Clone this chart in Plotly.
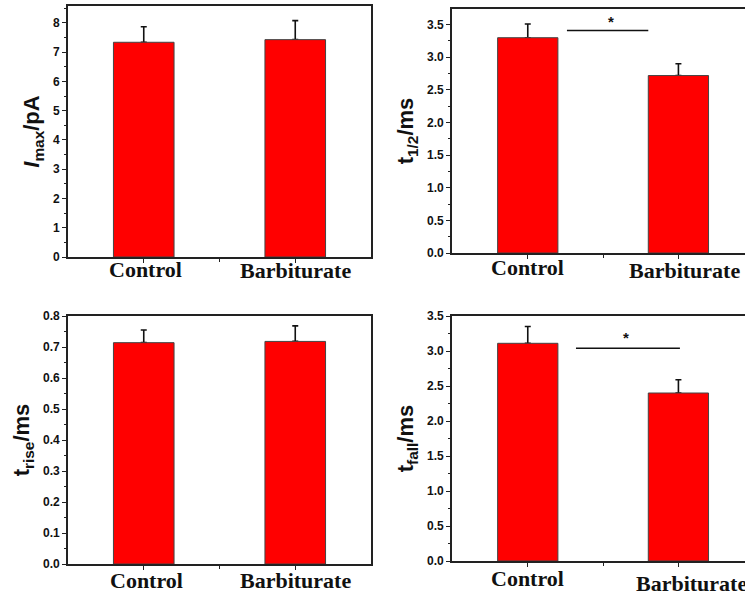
import plotly.graph_objects as go

# ---------------- data ----------------
categories = ["Control", "Barbiturate"]

imax = [7.34, 7.43]
imax_err = [0.53, 0.65]

t_half = [3.30, 2.72]
t_half_err = [0.21, 0.18]

t_rise = [0.714, 0.718]
t_rise_err = [0.041, 0.050]

t_fall = [3.11, 2.40]
t_fall_err = [0.24, 0.19]

sig_half_x = [0.26, 0.80]
sig_half_y = [3.41, 3.41]
star_half = (0.55, 3.55)

sig_fall_x = [0.32, 1.01]
sig_fall_y = [3.04, 3.04]
star_fall = (0.65, 3.20)

# ---------------- layout helpers ----------------
W, H = 745, 592


def px_x(p):
    return p / W


def px_y(p):
    return 1 - p / H


xs = list(range(len(categories)))

panels = [
    dict(v=imax, e=imax_err, title="<b><i>I</i><sub>max</sub>/pA</b>", yr=[0, 8.58], dt=1, fmt="d",
         xd=(68, 371), yd=(6, 257), frame=True, xr=[-0.5, 1.5]),
    dict(v=t_half, e=t_half_err, title="<b>t<sub>1/2</sub>/ms</b>", yr=[0, 3.74], dt=0.5, fmt=".1f",
         xd=(452, 745), yd=(9, 253), frame=False, xr=[-0.503, 1.442]),
    dict(v=t_rise, e=t_rise_err, title="<b>t<sub>rise</sub>/ms</b>", yr=[0, 0.8], dt=0.1, fmt=".1f",
         xd=(68, 371), yd=(316, 564), frame=True, xr=[-0.5, 1.5]),
    dict(v=t_fall, e=t_fall_err, title="<b>t<sub>fall</sub>/ms</b>", yr=[0, 3.5], dt=0.5, fmt=".1f",
         xd=(452, 745), yd=(316, 561), frame=False, xr=[-0.503, 1.442]),
]

# x-label pixel positions (centre y in px, x shift in px) per panel
label_pos = [
    [(269, 2), (270, 0)],
    [(267, 0), (270, 6)],
    [(580, 3), (580, 0)],
    [(578, 0), (583, 13)],
]

fig = go.Figure()
layout = {}
annotations = []

for i, p in enumerate(panels):
    n = "" if i == 0 else str(i + 1)
    xa, ya = "x" + n, "y" + n
    # error bars (drawn underneath the visible bars so only the upper half shows)
    fig.add_trace(go.Bar(
        x=xs, y=p["v"], width=0.4, xaxis=xa, yaxis=ya,
        marker=dict(color="rgba(0,0,0,0)", line=dict(width=0)),
        error_y=dict(type="data", symmetric=False, array=p["e"], arrayminus=[0] * len(p["e"]),
                     color="#111111", thickness=1.6, width=3),
        showlegend=False, hoverinfo="skip",
    ))
    fig.add_trace(go.Bar(
        x=xs, y=p["v"], width=0.4, xaxis=xa, yaxis=ya,
        marker=dict(color="#ff0000", line=dict(color="#444444", width=1)),
        showlegend=False,
    ))
    axis_line = dict(showline=True, linecolor="#222222", linewidth=1.6, zeroline=False, showgrid=False)
    layout["xaxis" + n] = dict(
        **axis_line,
        domain=[px_x(p["xd"][0]), px_x(p["xd"][1])],
        anchor=ya, range=p["xr"], tickmode="array", tickvals=xs, showticklabels=False,
        ticks="outside", ticklen=4, tickwidth=1.4, tickcolor="#222222",
        minor=dict(tickvals=[0.5], ticks="outside", ticklen=3, tickwidth=1.2, tickcolor="#222222"),
        mirror=True, fixedrange=True,
    )
    layout["yaxis" + n] = dict(
        **axis_line,
        domain=[px_y(p["yd"][1]), px_y(p["yd"][0])],
        anchor=xa, range=p["yr"], dtick=p["dt"], tick0=0, tickformat=p["fmt"],
        ticks="outside", ticklen=4, tickwidth=1.4, tickcolor="#222222",
        minor=dict(dtick=p["dt"] / 2, ticks="outside", ticklen=2.5, tickwidth=1.2, tickcolor="#222222"),
        tickfont=dict(family="Arial, Liberation Sans", size=12, color="#111111", weight="bold"),
        title=dict(text=p["title"], font=dict(family="Arial, Liberation Sans", size=22, color="#111111"),
                   standoff=7),
        mirror=p["frame"], automargin=False, fixedrange=True,
    )
    for j, cat in enumerate(categories):
        cy, shift = label_pos[i][j]
        annotations.append(dict(
            x=xs[j], xref=xa, y=px_y(cy), yref="paper", text="<b>%s</b>" % cat,
            showarrow=False, xshift=shift, xanchor="center", yanchor="middle",
            font=dict(family="Times New Roman, Liberation Serif", size=22, color="#111111"),
        ))

# significance markers
fig.add_trace(go.Scatter(x=sig_half_x, y=sig_half_y, xaxis="x2", yaxis="y2", mode="lines",
                         line=dict(color="#111111", width=1.6), showlegend=False, hoverinfo="skip"))
fig.add_trace(go.Scatter(x=sig_fall_x, y=sig_fall_y, xaxis="x4", yaxis="y4", mode="lines",
                         line=dict(color="#111111", width=1.6), showlegend=False, hoverinfo="skip"))
for (sx, sy), xa, ya in [(star_half, "x2", "y2"), (star_fall, "x4", "y4")]:
    annotations.append(dict(x=sx, y=sy, xref=xa, yref=ya, text="<b>*</b>", showarrow=False,
                            font=dict(family="Arial, Liberation Sans", size=15, color="#111111")))

fig.update_layout(
    **layout,
    annotations=annotations,
    width=W, height=H,
    margin=dict(l=0, r=0, t=0, b=0),
    paper_bgcolor="white", plot_bgcolor="white",
    barmode="overlay",
)

fig.write_html("out.html", config={"displayModeBar": False},
               post_script="document.body.style.margin='0';document.body.style.overflow='hidden';")
